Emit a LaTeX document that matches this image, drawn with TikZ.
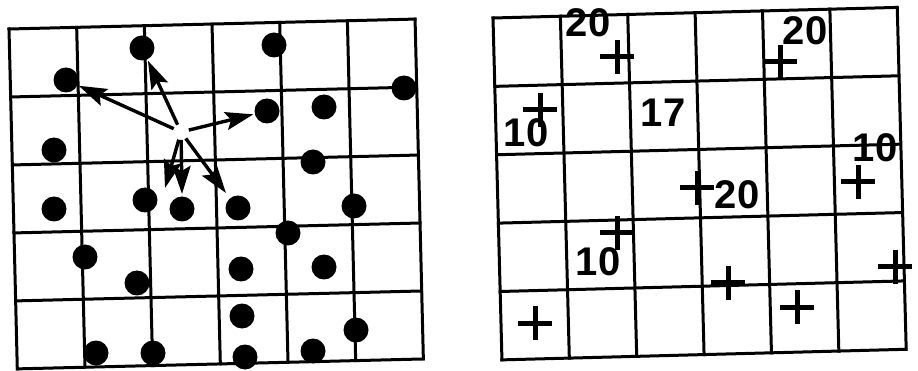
\documentclass[tikz,border=0pt]{standalone}
\usepackage{fontspec}
\setmainfont{Liberation Sans}
\usetikzlibrary{arrows.meta,shapes.misc}
\begin{document}
\begin{tikzpicture}[x=1pt, y=-1pt, line width=3pt,
  dot/.style={circle, fill=black, inner sep=0pt, minimum size=25pt},
  plusmark/.style={draw, cross out, rotate=45, line width=5pt, inner sep=0pt, minimum size=19pt},
  val/.style={font=\fontsize{40}{40}\selectfont\bfseries, inner sep=0pt},
  ray/.style={-{Stealth[length=28pt,width=18pt,inset=5pt]}, line width=3.4pt, shorten <=8pt}]
\useasboundingbox (0,0) rectangle (918,371);
\begin{scope}[shift={(9,29)}, rotate=1.4, line cap=rect]
\foreach \i in {0,...,6} \draw (\i*67.7,0) -- (\i*67.7,340);
\foreach \j in {0,...,5} \draw (0,\j*68) -- (406,\j*68);
\end{scope}
\begin{scope}[shift={(493,18)}, rotate=1.5, line cap=rect]
\foreach \i in {0,...,6} \draw (\i*67.4,0) -- (\i*67.4,342);
\foreach \j in {0,...,5} \draw (0,\j*68.4) -- (404,\j*68.4);
\end{scope}
\foreach \x/\y [count=\i] in {142/48, 274/45, 66/80, 404/88, 267/111, 324/107, 54/150, 313/162, 54/209, 145/200, 182/209, 238/208, 354/206, 288/233, 85/257, 137/283, 241/269, 324/267, 242/316, 356/330, 96/353, 153/353, 245/357, 313/351} \node[dot] (d\i) at (\x,\y) {};
\coordinate (hub) at (181,132);
\coordinate (t1) at (165,188);
\coordinate (t2) at (182,194);
\coordinate (t3) at (226,193);
\foreach \e in {d3, d1, d5, t1, t2, t3} \draw[ray] (hub) -- (\e);
\foreach \x/\y [count=\i] in {617/57, 780/62, 540/110, 858/182, 697/188, 617/233, 895/267, 728/283, 797/307, 535/323} \node[plusmark] (p\i) at (\x,\y) {};
\foreach \x/\y/\l [count=\i] in {588/23/20, 805/31/20, 526/133/10, 663/113/17, 875/148/10, 737/195/20, 598/262/10} \node[val] (v\i) at (\x,\y) {\l};
\end{tikzpicture}
\end{document}
